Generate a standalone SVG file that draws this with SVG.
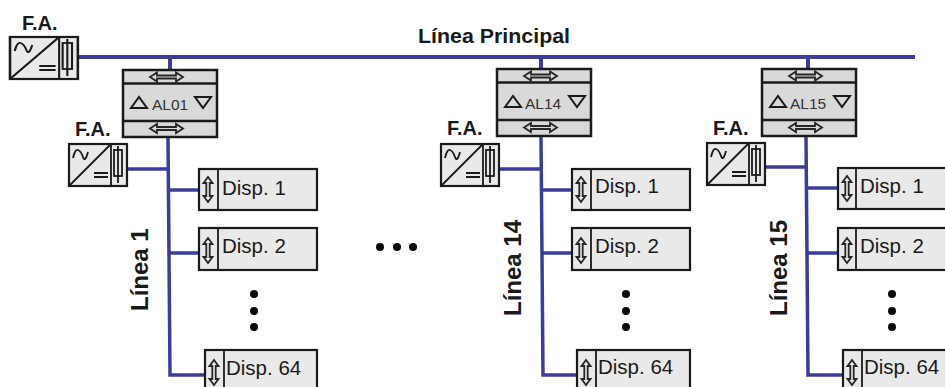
<svg xmlns="http://www.w3.org/2000/svg" width="945" height="387" viewBox="0 0 945 387">
<style>
.box{fill:#e9e9e9;stroke:#1a1a1a;stroke-width:2.2}
.cpl{fill:#d9d9d9;stroke:#1a1a1a;stroke-width:2.5}
.ln{fill:none;stroke:#1a1a1a;stroke-width:1.8}
.gl{fill:none;stroke:#262626;stroke-width:1.8}
.bus{fill:none;stroke:#3c3c9c;stroke-width:3.5}
text{font-family:"Liberation Sans",Arial,sans-serif;fill:#1a1a1a}
.b{font-weight:bold;font-size:20px}
.p{font-weight:bold;font-size:20px}
.d{font-size:20.5px}
.al{font-size:15.5px;fill:#333}
.v{font-weight:bold;font-size:24px}
.dot{fill:#0a0a0a}
</style>
<defs>
<g id="ps">
<rect class="box" x="0" y="0" width="58" height="42"/>
<path class="ln" d="M0 42L42 0M42 0V42M4 14q2-9 5-8t5 7t5-5M25 29h14M25 33h14"/>
<rect class="ln" x="45" y="6" width="8" height="26"/>
<path class="ln" d="M49 2V39"/>
</g>
<g id="arrow-h"><path class="gl" d="M0 0l7-4.500v3h19v-3l7 4.500l-7 4.500v-3h-19v3z"/></g>
<g id="cpl">
<rect class="cpl" x="0" y="0" width="94" height="67"/>
<path class="ln" d="M0 13.500H94M0 51H94" style="stroke-width:2.500"/>
<use href="#arrow-h" x="27" y="7"/>
<use href="#arrow-h" x="27" y="58.500"/>
<path class="ln" d="M8 38l8-11l8 11zM72 27h16l-8 11z" style="stroke-width:2"/>
</g>
<g id="ud"><path class="gl" d="M0 0l-4.500 6h2.800v13h-2.800l4.500 6l4.500-6h-2.800v-13h2.800z"/></g>
</defs>

<g id="connectors">
<path class="bus" d="M78 57H915" style="stroke-width:4"/>
<path class="bus" d="M170 57V70M541 57V70M808 57V70" style="stroke-width:4"/>
<path class="bus" d="M168 137L170 375H205M127 169H168M169 190H199M170 253H199"/>
<path class="bus" d="M541 137L543 375H577M499 169H541M542 190H572M543 253H572"/>
<path class="bus" d="M806 137L808 375H843M766 167H806M807 188H838M808 253H838"/>
</g>

<g id="fa-main"><use href="#ps" transform="translate(10 37) scale(1.17 1)"/><text class="b" x="22" y="30">F.A.</text></g>
<g id="label-principal"><text class="p" x="418" y="43" textLength="152" lengthAdjust="spacingAndGlyphs">Línea Principal</text></g>

<g id="al01"><use href="#cpl" x="123" y="70"/><text class="al" x="152" y="110">AL01</text></g>
<g id="fa-1"><use href="#ps" x="69" y="144"/><text class="b" x="75" y="136">F.A.</text></g>
<g id="d1-1"><rect class="box" x="199" y="169" width="118" height="41"/><path class="ln" d="M218 169V210"/><use href="#ud" x="208" y="177"/><text class="d" x="222" y="195">Disp. 1</text></g>
<g id="d1-2"><rect class="box" x="199" y="228" width="118" height="42"/><path class="ln" d="M218 228V270"/><use href="#ud" x="208" y="238"/><text class="d" x="222" y="253">Disp. 2</text></g>
<g id="d1-64"><rect class="box" x="205" y="350" width="112" height="42"/><path class="ln" d="M224 350V392"/><use href="#ud" x="214" y="360"/><text class="d" x="226" y="375">Disp. 64</text></g>
<text class="v" transform="translate(148 311) rotate(-90)">Línea 1</text>
<g id="dots1"><circle class="dot" cx="254" cy="294" r="4"/><circle class="dot" cx="254" cy="311" r="4"/><circle class="dot" cx="254" cy="327" r="4"/></g>

<g id="dots-h"><circle class="dot" cx="380" cy="247" r="4"/><circle class="dot" cx="397" cy="247" r="4"/><circle class="dot" cx="413" cy="247" r="4"/></g>

<g id="al14"><use href="#cpl" x="497" y="69"/><text class="al" x="525" y="109">AL14</text></g>
<g id="fa-14"><use href="#ps" x="441" y="144"/><text class="b" x="447" y="135">F.A.</text></g>
<g id="d14-1"><rect class="box" x="572" y="169" width="118" height="41"/><path class="ln" d="M591 169V210"/><use href="#ud" x="581" y="177"/><text class="d" x="595" y="193">Disp. 1</text></g>
<g id="d14-2"><rect class="box" x="572" y="228" width="118" height="42"/><path class="ln" d="M591 228V270"/><use href="#ud" x="581" y="238"/><text class="d" x="595" y="253">Disp. 2</text></g>
<g id="d14-64"><rect class="box" x="577" y="350" width="113" height="42"/><path class="ln" d="M596 350V392"/><use href="#ud" x="586" y="360"/><text class="d" x="598" y="374">Disp. 64</text></g>
<text class="v" transform="translate(521 316) rotate(-90)">Línea 14</text>
<g id="dots14"><circle class="dot" cx="626" cy="294" r="4"/><circle class="dot" cx="626" cy="311" r="4"/><circle class="dot" cx="626" cy="327" r="4"/></g>

<g id="al15"><use href="#cpl" x="762" y="69"/><text class="al" x="790" y="109">AL15</text></g>
<g id="fa-15"><use href="#ps" x="707" y="143"/><text class="b" x="713" y="135">F.A.</text></g>
<g id="d15-1"><rect class="box" x="838" y="168" width="118" height="41"/><path class="ln" d="M856 168V209"/><use href="#ud" x="847" y="176"/><text class="d" x="860" y="193">Disp. 1</text></g>
<g id="d15-2"><rect class="box" x="838" y="228" width="118" height="42"/><path class="ln" d="M856 228V270"/><use href="#ud" x="847" y="238"/><text class="d" x="860" y="253">Disp. 2</text></g>
<g id="d15-64"><rect class="box" x="843" y="350" width="113" height="42"/><path class="ln" d="M862 350V392"/><use href="#ud" x="852" y="360"/><text class="d" x="864" y="374">Disp. 64</text></g>
<text class="v" transform="translate(787 316) rotate(-90)">Línea 15</text>
<g id="dots15"><circle class="dot" cx="892" cy="294" r="4"/><circle class="dot" cx="892" cy="311" r="4"/><circle class="dot" cx="892" cy="327" r="4"/></g>
</svg>
